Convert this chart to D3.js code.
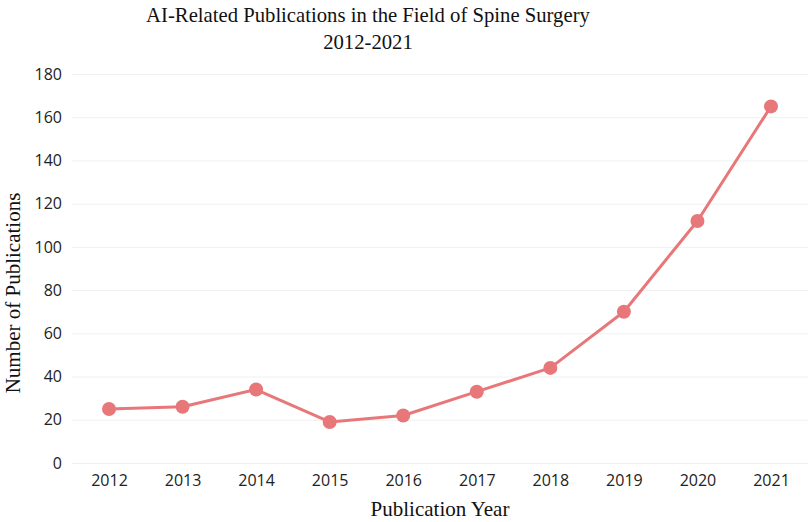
<!DOCTYPE html>
<meta charset="utf-8">
<style>
    body { margin: 0; background: #fff; }
    .tick line { stroke: #f0f0f0; }
    .domain { display: none; }
    .tick text { font-family: "Open Sans", "Noto Sans", sans-serif; font-size: 16px; fill: #222; }
    .serif { font-family: "Liberation Serif", "DejaVu Serif", serif; fill: #111; }
</style>
<script src="https://cdn.jsdelivr.net/npm/d3@7"></script>
<div id="svg-holder"></div>
<script>
    // data
    var years = [2012, 2013, 2014, 2015, 2016, 2017, 2018, 2019, 2020, 2021];
    var counts = [25, 26, 34, 19, 22, 33, 44, 70, 112, 165];
    var y_ticks = [0, 20, 40, 60, 80, 100, 120, 140, 160, 180];

    var width = 810, height = 522;
    var plot_left = 72, plot_right = 808, plot_top = 74, plot_bottom = 463;
    var line_color = "#e8777a";

    var svg = d3.select("#svg-holder").append("svg")
            .attr("width", width).attr("height", height);

    var x = d3.scalePoint().domain(years).range([109, 771]);
    var y = d3.scaleLinear().domain([0, 180]).range([plot_bottom, plot_top]);

    // gridlines + y labels
    svg.append("g").attr("transform", "translate(" + plot_left + ",0)")
        .call(d3.axisLeft(y).tickValues(y_ticks).tickSize(-(plot_right - plot_left)).tickPadding(10));

    // x labels
    svg.append("g").attr("transform", "translate(0," + plot_bottom + ")")
        .call(d3.axisBottom(x).tickSize(0).tickPadding(12).tickFormat(d3.format("d")));

    // line
    var line = d3.line().x(function(d, i) { return x(years[i]); }).y(function(d) { return y(d); });
    svg.append("path").datum(counts)
        .attr("fill", "none").attr("stroke", line_color).attr("stroke-width", 3)
        .attr("stroke-linejoin", "round").attr("d", line);

    svg.selectAll("circle.pt").data(counts).enter().append("circle")
        .attr("class", "pt")
        .attr("cx", function(d, i) { return x(years[i]); })
        .attr("cy", function(d) { return y(d); })
        .attr("r", 7).attr("fill", line_color);

    // titles
    svg.append("text").attr("class", "serif").attr("x", 368).attr("y", 22)
        .attr("text-anchor", "middle").attr("font-size", "20.7px")
        .text("AI-Related Publications in the Field of Spine Surgery");
    svg.append("text").attr("class", "serif").attr("x", 368).attr("y", 49)
        .attr("text-anchor", "middle").attr("font-size", "20.7px")
        .text("2012-2021");

    svg.append("text").attr("class", "serif").attr("x", 440).attr("y", 516)
        .attr("text-anchor", "middle").attr("font-size", "21px")
        .text("Publication Year");
    svg.append("text").attr("class", "serif")
        .attr("transform", "translate(20,293) rotate(-90)")
        .attr("text-anchor", "middle").attr("font-size", "21px")
        .text("Number of Publications");
</script>
